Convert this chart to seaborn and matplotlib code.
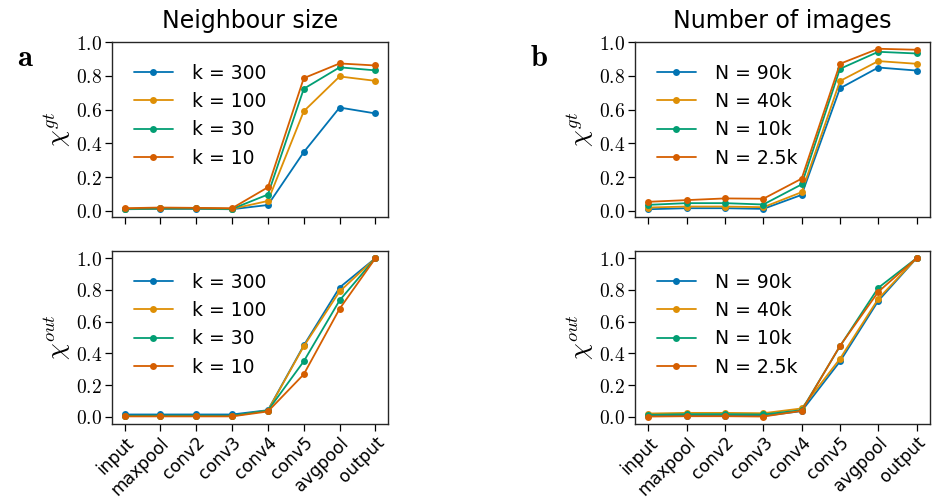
import numpy as np
import pandas as pd
import matplotlib
matplotlib.use("Agg")
import matplotlib.pyplot as plt
from matplotlib.ticker import FuncFormatter
import seaborn as sns

layers = ["input", "maxpool", "conv2", "conv3", "conv4", "conv5", "avgpool", "output"]

k_labels = ["k = 300", "k = 100", "k = 30", "k = 10"]
k_gt = [
    [0.010, 0.012, 0.012, 0.010, 0.035, 0.348, 0.612, 0.577],
    [0.012, 0.015, 0.015, 0.012, 0.059, 0.590, 0.796, 0.770],
    [0.012, 0.015, 0.015, 0.012, 0.097, 0.723, 0.850, 0.832],
    [0.016, 0.020, 0.018, 0.016, 0.140, 0.786, 0.873, 0.861],
]
k_out = [
    [0.015, 0.015, 0.015, 0.015, 0.042, 0.450, 0.815, 1.0],
    [0.005, 0.006, 0.006, 0.005, 0.040, 0.445, 0.790, 1.0],
    [0.007, 0.008, 0.008, 0.007, 0.040, 0.350, 0.734, 1.0],
    [0.003, 0.003, 0.003, 0.003, 0.034, 0.268, 0.681, 1.0],
]

n_labels = ["N = 90k", "N = 40k", "N = 10k", "N = 2.5k"]
n_gt = [
    [0.010, 0.016, 0.016, 0.012, 0.095, 0.726, 0.849, 0.831],
    [0.020, 0.026, 0.026, 0.022, 0.111, 0.769, 0.887, 0.871],
    [0.036, 0.046, 0.046, 0.038, 0.157, 0.841, 0.942, 0.932],
    [0.054, 0.064, 0.074, 0.072, 0.191, 0.871, 0.960, 0.954],
]
n_out = [
    [0.006, 0.006, 0.006, 0.006, 0.036, 0.349, 0.731, 1.0],
    [0.021, 0.025, 0.025, 0.023, 0.053, 0.366, 0.744, 1.0],
    [0.013, 0.017, 0.017, 0.015, 0.042, 0.445, 0.813, 1.0],
    [0.002, 0.004, 0.004, 0.002, 0.038, 0.447, 0.788, 1.0],
]

sns.set_theme(style="ticks", palette="colorblind")
plt.rcParams["font.family"] = ["DejaVu Sans"]
plt.rcParams["mathtext.fontset"] = "cm"
for key in ["text.color", "axes.labelcolor", "xtick.color", "ytick.color"]:
    plt.rcParams[key] = "black"

SANS = "DejaVu Sans"


def long_df(labels, values):
    rows = []
    for lab, vals in zip(labels, values):
        for layer, v in zip(layers, vals):
            rows.append({"layer": layer, "value": v, "series": lab})
    return pd.DataFrame(rows)


W, H = 940, 499
fig = plt.figure(figsize=(9.4, 4.99), dpi=100)


def box(l, t, r, b):
    return [l / W, (H - b) / H, (r - l) / W, (b - t) / H]


ax_tl = fig.add_axes(box(112, 42, 388, 217))
ax_bl = fig.add_axes(box(112, 251, 388, 424))
ax_tr = fig.add_axes(box(635, 42, 930, 217))
ax_br = fig.add_axes(box(635, 251, 930, 424))

pal = sns.color_palette("colorblind", 4)

panels = [
    (ax_tl, k_labels, k_gt, r"$\chi^{gt}$", True),
    (ax_bl, k_labels, k_out, r"$\chi^{out}$", False),
    (ax_tr, n_labels, n_gt, r"$\chi^{gt}$", True),
    (ax_br, n_labels, n_out, r"$\chi^{out}$", False),
]

for ax, labels, vals, ylab, top in panels:
    df = long_df(labels, vals)
    sns.lineplot(data=df, x="layer", y="value", hue="series", hue_order=labels,
                 palette=pal, marker="o", markersize=5, markeredgewidth=0,
                 linewidth=1.3, ax=ax, sort=False)
    ax.set_xlabel("")
    ax.set_ylabel(ylab, fontsize=19, labelpad=2)
    if top:
        ax.set_ylim(-0.036, 1.0)
        ax.set_xticklabels([])
    else:
        ax.set_ylim(-0.045, 1.045)
        ax.set_xticks(range(len(layers)))
        ax.set_xticklabels(layers, rotation=45, ha="right", rotation_mode="anchor",
                           fontsize=12.3, family=SANS)
    ax.set_yticks([0.0, 0.2, 0.4, 0.6, 0.8, 1.0])
    ax.yaxis.set_major_formatter(FuncFormatter(lambda v, p: r"$%.1f$" % v))
    ax.tick_params(axis="y", labelsize=14, length=5, width=0.9, pad=2)
    ax.tick_params(axis="x", length=5, width=0.9, pad=2)
    for s in ax.spines.values():
        s.set_visible(True)
        s.set_color("#262626")
        s.set_linewidth(1.0)
    leg = ax.legend(loc="upper left", frameon=False, fontsize=13.5,
                    handlelength=2.1, handletextpad=1.0, labelspacing=0.5,
                    borderaxespad=0.75)

ax_tl.set_title("Neighbour size", fontsize=17, pad=10, family=SANS)
ax_tr.set_title("Number of images", fontsize=17, pad=10, family=SANS)

fig.text(17 / W, 1 - 58 / H, r"$\mathbf{a}$", fontsize=22, ha="left", va="center")
fig.text(530 / W, 1 - 58 / H, r"$\mathbf{b}$", fontsize=22, ha="left", va="center")

fig.savefig("out.png", dpi=100)
